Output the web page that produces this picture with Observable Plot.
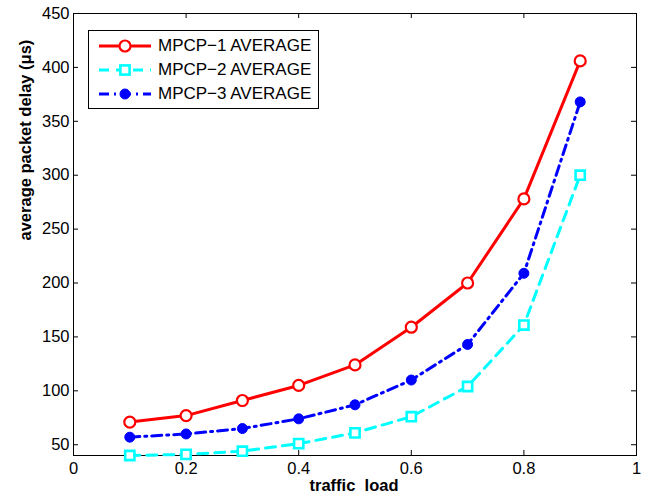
<!DOCTYPE html>
<html><head><meta charset="utf-8">
<script src="https://cdn.jsdelivr.net/npm/d3@7"></script>
<script src="https://cdn.jsdelivr.net/npm/@observablehq/plot@0.6"></script>
<style>
body{margin:0;background:#fff;}
#wrap{position:relative;width:650px;height:502px;}
#wrap svg text{white-space:pre;}
#legend{position:absolute;left:88px;top:30px;width:229px;height:77px;border:1px solid #000;background:#fff;font-family:"Liberation Sans",Arial,sans-serif;font-size:17px;color:#000;}
.row{position:absolute;left:0;height:24px;display:flex;align-items:center;white-space:nowrap;}
.row svg{width:60px;height:20px;margin-left:6px;margin-right:3px;}
</style></head>
<body>
<div id="wrap"><div id="legend"></div></div>
<script>
const load = [0.1,0.2,0.3,0.4,0.5,0.6,0.7,0.8,0.9];
const mpcp1 = [71,77,91,105,124,159,200,278,406];
const mpcp2 = [40,41,44,51,61,76,104,161,300];
const mpcp3 = [57,60,65,74,87,110,143,209,368];
const seriesNames = ["MPCP\u22121 AVERAGE","MPCP\u22122 AVERAGE","MPCP\u22123 AVERAGE"];
const xTicks = [0,0.2,0.4,0.6,0.8,1];
const yTicks = [50,100,150,200,250,300,350,400,450];
const xLabel = "traffic  load";
const yLabel = "average packet delay (\u03bcs)";

const styles = [
  {stroke:"#ff0000", dash:null, symbol:"circle", fill:"white", r:5.5, sw:2.2},
  {stroke:"#00ffff", dash:"10,7", symbol:"square", fill:"white", r:5.2, sw:2.6},
  {stroke:"#0000ff", dash:"10,5,2,5", symbol:"circle", fill:"#0000ff", r:5, sw:1}
];
const seriesVals = [mpcp1, mpcp2, mpcp3];
const data = seriesVals.map((vals,i)=>load.map((x,j)=>({x, y: vals[j], s: seriesNames[i]})));

const W=650,H=502,mL=73,mR=14,mT=13,mB=47;
const fw=W-mL-mR, fh=H-mT-mB, tl=5;

const marks = [];
marks.push(Plot.frame({stroke:"black", strokeWidth:1}));
marks.push(Plot.ruleX(xTicks,{x:d=>d, insetTop:fh-tl, stroke:"black"}));
marks.push(Plot.ruleX(xTicks,{x:d=>d, insetBottom:fh-tl, stroke:"black"}));
marks.push(Plot.ruleY(yTicks,{y:d=>d, insetRight:fw-tl, stroke:"black"}));
marks.push(Plot.ruleY(yTicks,{y:d=>d, insetLeft:fw-tl, stroke:"black"}));
marks.push(Plot.axisX(xTicks,{tickSize:0, tickPadding:7, label:null, tickFormat:d=>String(d), fontSize:16.5}));
marks.push(Plot.axisY(yTicks,{tickSize:0, tickPadding:4, label:null, fontSize:16.5}));
marks.push(Plot.text([yLabel],{frameAnchor:"left", rotate:-90, dx:-48, dy:6, fontWeight:"bold", fontSize:16.5}));
marks.push(Plot.text([xLabel],{frameAnchor:"bottom", dy:35, dx:-1, fontWeight:"bold", fontSize:16.5}));
data.forEach((d,i)=>{
  const st=styles[i];
  marks.push(Plot.line(d,{x:"x",y:"y",stroke:st.stroke,strokeWidth:3,strokeDasharray:st.dash, clip:false}));
});
data.forEach((d,i)=>{
  const st=styles[i];
  marks.push(Plot.dot(d,{x:"x",y:"y",symbol:st.symbol,r:st.r,stroke:st.stroke,strokeWidth:st.sw,fill:st.fill, clip:false}));
});

const chart = Plot.plot({
  width:W, height:H, marginLeft:mL, marginRight:mR, marginTop:mT, marginBottom:mB,
  x:{domain:[0,1]}, y:{domain:[40,450]},
  style:{fontFamily:"'Liberation Sans', Arial, sans-serif", fontSize:"16.5px", color:"black", background:"white"},
  marks
});
document.getElementById("wrap").prepend(chart);

// legend
const leg = document.getElementById("legend");
const ns="http://www.w3.org/2000/svg";
seriesNames.forEach((name,i)=>{
  const st=styles[i];
  const row=document.createElement("div");
  row.className="row"; row.style.top=(3+i*24)+"px";
  const svg=document.createElementNS(ns,"svg");
  svg.setAttribute("viewBox","0 0 60 20");
  const ln=document.createElementNS(ns,"line");
  ln.setAttribute("x1",4);ln.setAttribute("x2",56);ln.setAttribute("y1",10);ln.setAttribute("y2",10);
  ln.setAttribute("stroke",st.stroke);ln.setAttribute("stroke-width",3);
  if(st.dash) ln.setAttribute("stroke-dasharray",st.dash);
  svg.appendChild(ln);
  let mk;
  if(st.symbol==="square"){
    mk=document.createElementNS(ns,"rect");
    const s=st.r*1.77;
    mk.setAttribute("x",30-s/2);mk.setAttribute("y",10-s/2);mk.setAttribute("width",s);mk.setAttribute("height",s);
  } else {
    mk=document.createElementNS(ns,"circle");
    mk.setAttribute("cx",30);mk.setAttribute("cy",10);mk.setAttribute("r",st.r);
  }
  mk.setAttribute("stroke",st.stroke);mk.setAttribute("fill",st.fill);mk.setAttribute("stroke-width",st.sw);
  svg.appendChild(mk);
  row.appendChild(svg);
  const t=document.createElement("span"); t.textContent=name;
  row.appendChild(t);
  leg.appendChild(row);
});
</script>
</body></html>
